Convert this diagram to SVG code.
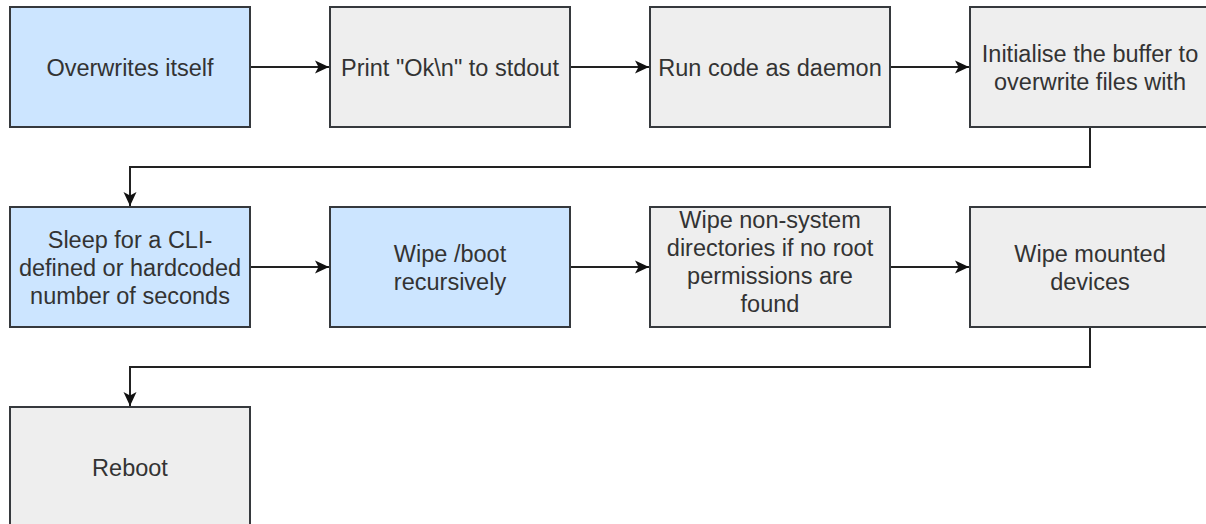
<svg xmlns="http://www.w3.org/2000/svg" width="1206" height="524" viewBox="0 0 1206 524">
<style>
.box{stroke:#36393d;stroke-width:2}
.blue{fill:#cce5ff}
.gray{fill:#eeeeee}
text{font-family:"Liberation Sans",Arial,sans-serif;font-size:23.5px;fill:#333333;text-anchor:middle}
.c{fill:none;stroke:#222222;stroke-width:2}
</style>
<defs>
<marker id="arr" markerUnits="userSpaceOnUse" markerWidth="16" markerHeight="16" viewBox="0 0 16 16" refX="15" refY="8" orient="auto">
<path d="M15,8 L1,1.5 L4.5,8 L1,14.5 Z" fill="#111111"/>
</marker>
</defs>
<rect width="1206" height="524" fill="#ffffff"/>
<g id="connectors">
<path class="c" d="M250,67 H329" marker-end="url(#arr)"/>
<path class="c" d="M570,67 H649" marker-end="url(#arr)"/>
<path class="c" d="M890,67 H969" marker-end="url(#arr)"/>
<path class="c" d="M1090,127 V167 H130 V206" marker-end="url(#arr)"/>
<path class="c" d="M250,267 H329" marker-end="url(#arr)"/>
<path class="c" d="M570,267 H649" marker-end="url(#arr)"/>
<path class="c" d="M890,267 H969" marker-end="url(#arr)"/>
<path class="c" d="M1090,327 V367 H130 V406" marker-end="url(#arr)"/>
</g>
<g id="n1"><rect class="box blue" x="10" y="7" width="240" height="120"/><text x="130" y="75.5">Overwrites itself</text></g>
<g id="n2"><rect class="box gray" x="330" y="7" width="240" height="120"/><text x="450" y="75.5">Print "Ok\n" to stdout</text></g>
<g id="n3"><rect class="box gray" x="650" y="7" width="240" height="120"/><text x="770" y="75.5">Run code as daemon</text></g>
<g id="n4"><rect class="box gray" x="970" y="7" width="240" height="120"/><text x="1090" y="61.5">Initialise the buffer to</text><text x="1090" y="89.5">overwrite files with</text></g>
<g id="n5"><rect class="box blue" x="10" y="207" width="240" height="120"/><text x="130" y="247.5">Sleep for a CLI-</text><text x="130" y="275.5">defined or hardcoded</text><text x="130" y="303.5">number of seconds</text></g>
<g id="n6"><rect class="box blue" x="330" y="207" width="240" height="120"/><text x="450" y="261.5">Wipe /boot</text><text x="450" y="289.5">recursively</text></g>
<g id="n7"><rect class="box gray" x="650" y="207" width="240" height="120"/><text x="770" y="227.5">Wipe non-system</text><text x="770" y="255.5">directories if no root</text><text x="770" y="283.5">permissions are</text><text x="770" y="311.5">found</text></g>
<g id="n8"><rect class="box gray" x="970" y="207" width="240" height="120"/><text x="1090" y="261.5">Wipe mounted</text><text x="1090" y="289.5">devices</text></g>
<g id="n9"><rect class="box gray" x="10" y="407" width="240" height="120"/><text x="130" y="475.5">Reboot</text></g>
</svg>
